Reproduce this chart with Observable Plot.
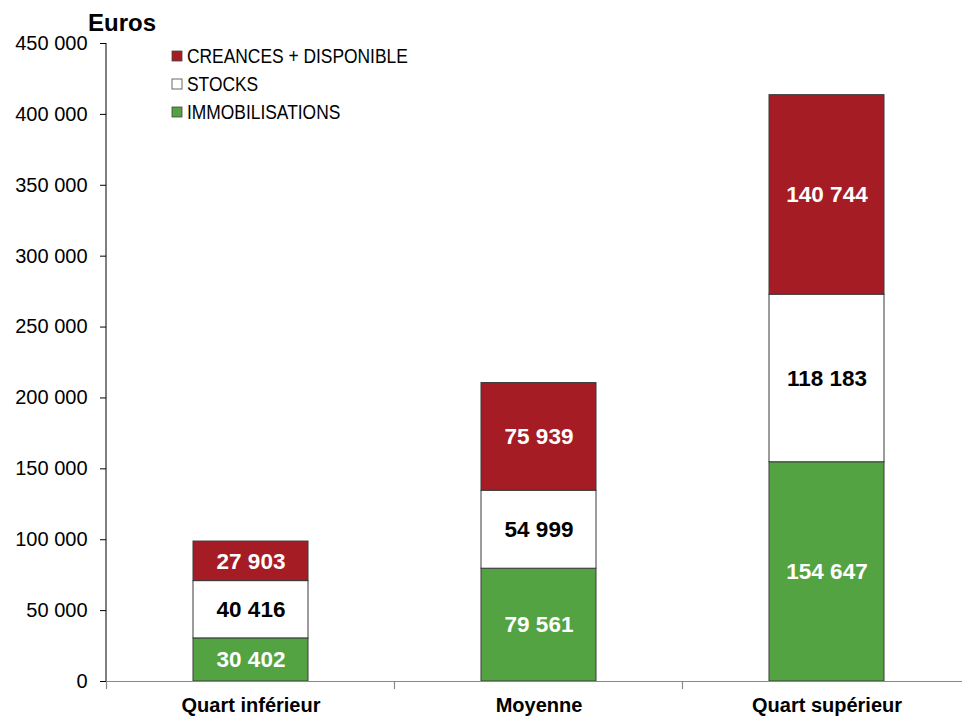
<!DOCTYPE html>
<html>
<head>
<meta charset="utf-8">
<script src="https://cdn.jsdelivr.net/npm/d3@7"></script>
<script src="https://cdn.jsdelivr.net/npm/@observablehq/plot@0.6"></script>
<style>
  body { margin: 0; background: #fff; }
  #chart { width: 962px; height: 716px; }
</style>
</head>
<body>
<div id="chart"></div>
<script>
const categories = ["Quart inférieur", "Moyenne", "Quart supérieur"];
const seriesNames = ["IMMOBILISATIONS", "STOCKS", "CREANCES + DISPONIBLE"];
const immobilisations = [30402, 79561, 154647];
const stocks = [40416, 54999, 118183];
const creances = [27903, 75939, 140744];
const yTicks = [0, 50000, 100000, 150000, 200000, 250000, 300000, 350000, 400000, 450000];
const legendOrder = ["CREANCES + DISPONIBLE", "STOCKS", "IMMOBILISATIONS"];

const seriesValues = [immobilisations, stocks, creances];
const data = [];
seriesNames.forEach((s, si) => {
  categories.forEach((c, ci) => {
    data.push({ category: c, series: s, value: seriesValues[si][ci] });
  });
});

const colorRange = ["#54A342", "#FFFFFF", "#A51C24"];
const labelFill = { "IMMOBILISATIONS": "#FFFFFF", "STOCKS": "#000000", "CREANCES + DISPONIBLE": "#FFFFFF" };
const fmt = d => d3.format(",")(d).replace(/,/g, " ");
const FONT = "'Liberation Sans', Arial, sans-serif";

const W = 962, H = 716;
const plot = Plot.plot({
  width: W,
  height: H,
  marginLeft: 106,
  marginTop: 43,
  marginBottom: 35,
  marginRight: 0,
  style: { fontFamily: FONT, fontSize: "19px", background: "white", color: "#000" },
  x: { type: "band", domain: categories, range: [106, 971.5], paddingInner: 0.6, paddingOuter: 0.3, axis: null },
  y: { domain: [0, 450000], axis: null },
  color: { domain: seriesNames, range: colorRange },
  marks: [
    Plot.barY(data, Plot.stackY({
      x: "category", y: "value", z: "series", fill: "series", order: seriesNames,
      stroke: "#3a3a3a", strokeWidth: 1
    })),
    Plot.text(data, Plot.stackY({
      x: "category", y: "value", z: "series", order: seriesNames,
      text: d => fmt(d.value), fill: d => labelFill[d.series],
      fontWeight: "bold", fontSize: 22.5
    })),
    Plot.ruleY([0], { stroke: "#8a8a8a", strokeWidth: 1.2 }),
    Plot.axisY({ ticks: yTicks, tickSize: 6, tickPadding: 13, tickFormat: fmt, fontSize: 20, anchor: "left", label: null }),
    Plot.axisX({ tickSize: 0, tickPadding: 16, fontSize: 20, fontWeight: "bold", anchor: "bottom", label: null })
  ]
});

document.getElementById("chart").appendChild(plot);

const svg = d3.select(plot);
const xs = plot.scale("x");
const ys = plot.scale("y");
const y0 = ys.apply(0), yTop = ys.apply(450000);

// y axis line
svg.append("line")
  .attr("x1", 106).attr("x2", 106).attr("y1", yTop).attr("y2", y0)
  .attr("stroke", "#000").attr("stroke-width", 1);

// x ticks at band boundaries
categories.forEach(c => {
  const bx = xs.apply(c) - (xs.step - xs.bandwidth) / 2;
  svg.append("line")
    .attr("x1", bx).attr("x2", bx).attr("y1", y0).attr("y2", y0 + 8)
    .attr("stroke", "#8a8a8a").attr("stroke-width", 1.2);
});

// title
svg.append("text")
  .attr("x", 88).attr("y", 31)
  .attr("text-anchor", "start")
  .attr("font-family", FONT).attr("font-weight", "bold").attr("font-size", 24)
  .attr("fill", "#000")
  .text("Euros");

// legend
const lg = svg.append("g");
legendOrder.forEach((s, i) => {
  const cy = 56 + i * 28;
  lg.append("rect")
    .attr("x", 172).attr("y", cy - 5).attr("width", 10).attr("height", 10)
    .attr("fill", colorRange[seriesNames.indexOf(s)])
    .attr("stroke", "#444").attr("stroke-width", 0.8);
  lg.append("text")
    .attr("transform", `translate(187,${cy}) scale(0.87,1)`)
    .attr("dy", "0.36em")
    .attr("text-anchor", "start")
    .attr("font-family", FONT)
    .attr("font-size", 20)
    .attr("fill", "#000")
    .text(s);
});
</script>
</body>
</html>
